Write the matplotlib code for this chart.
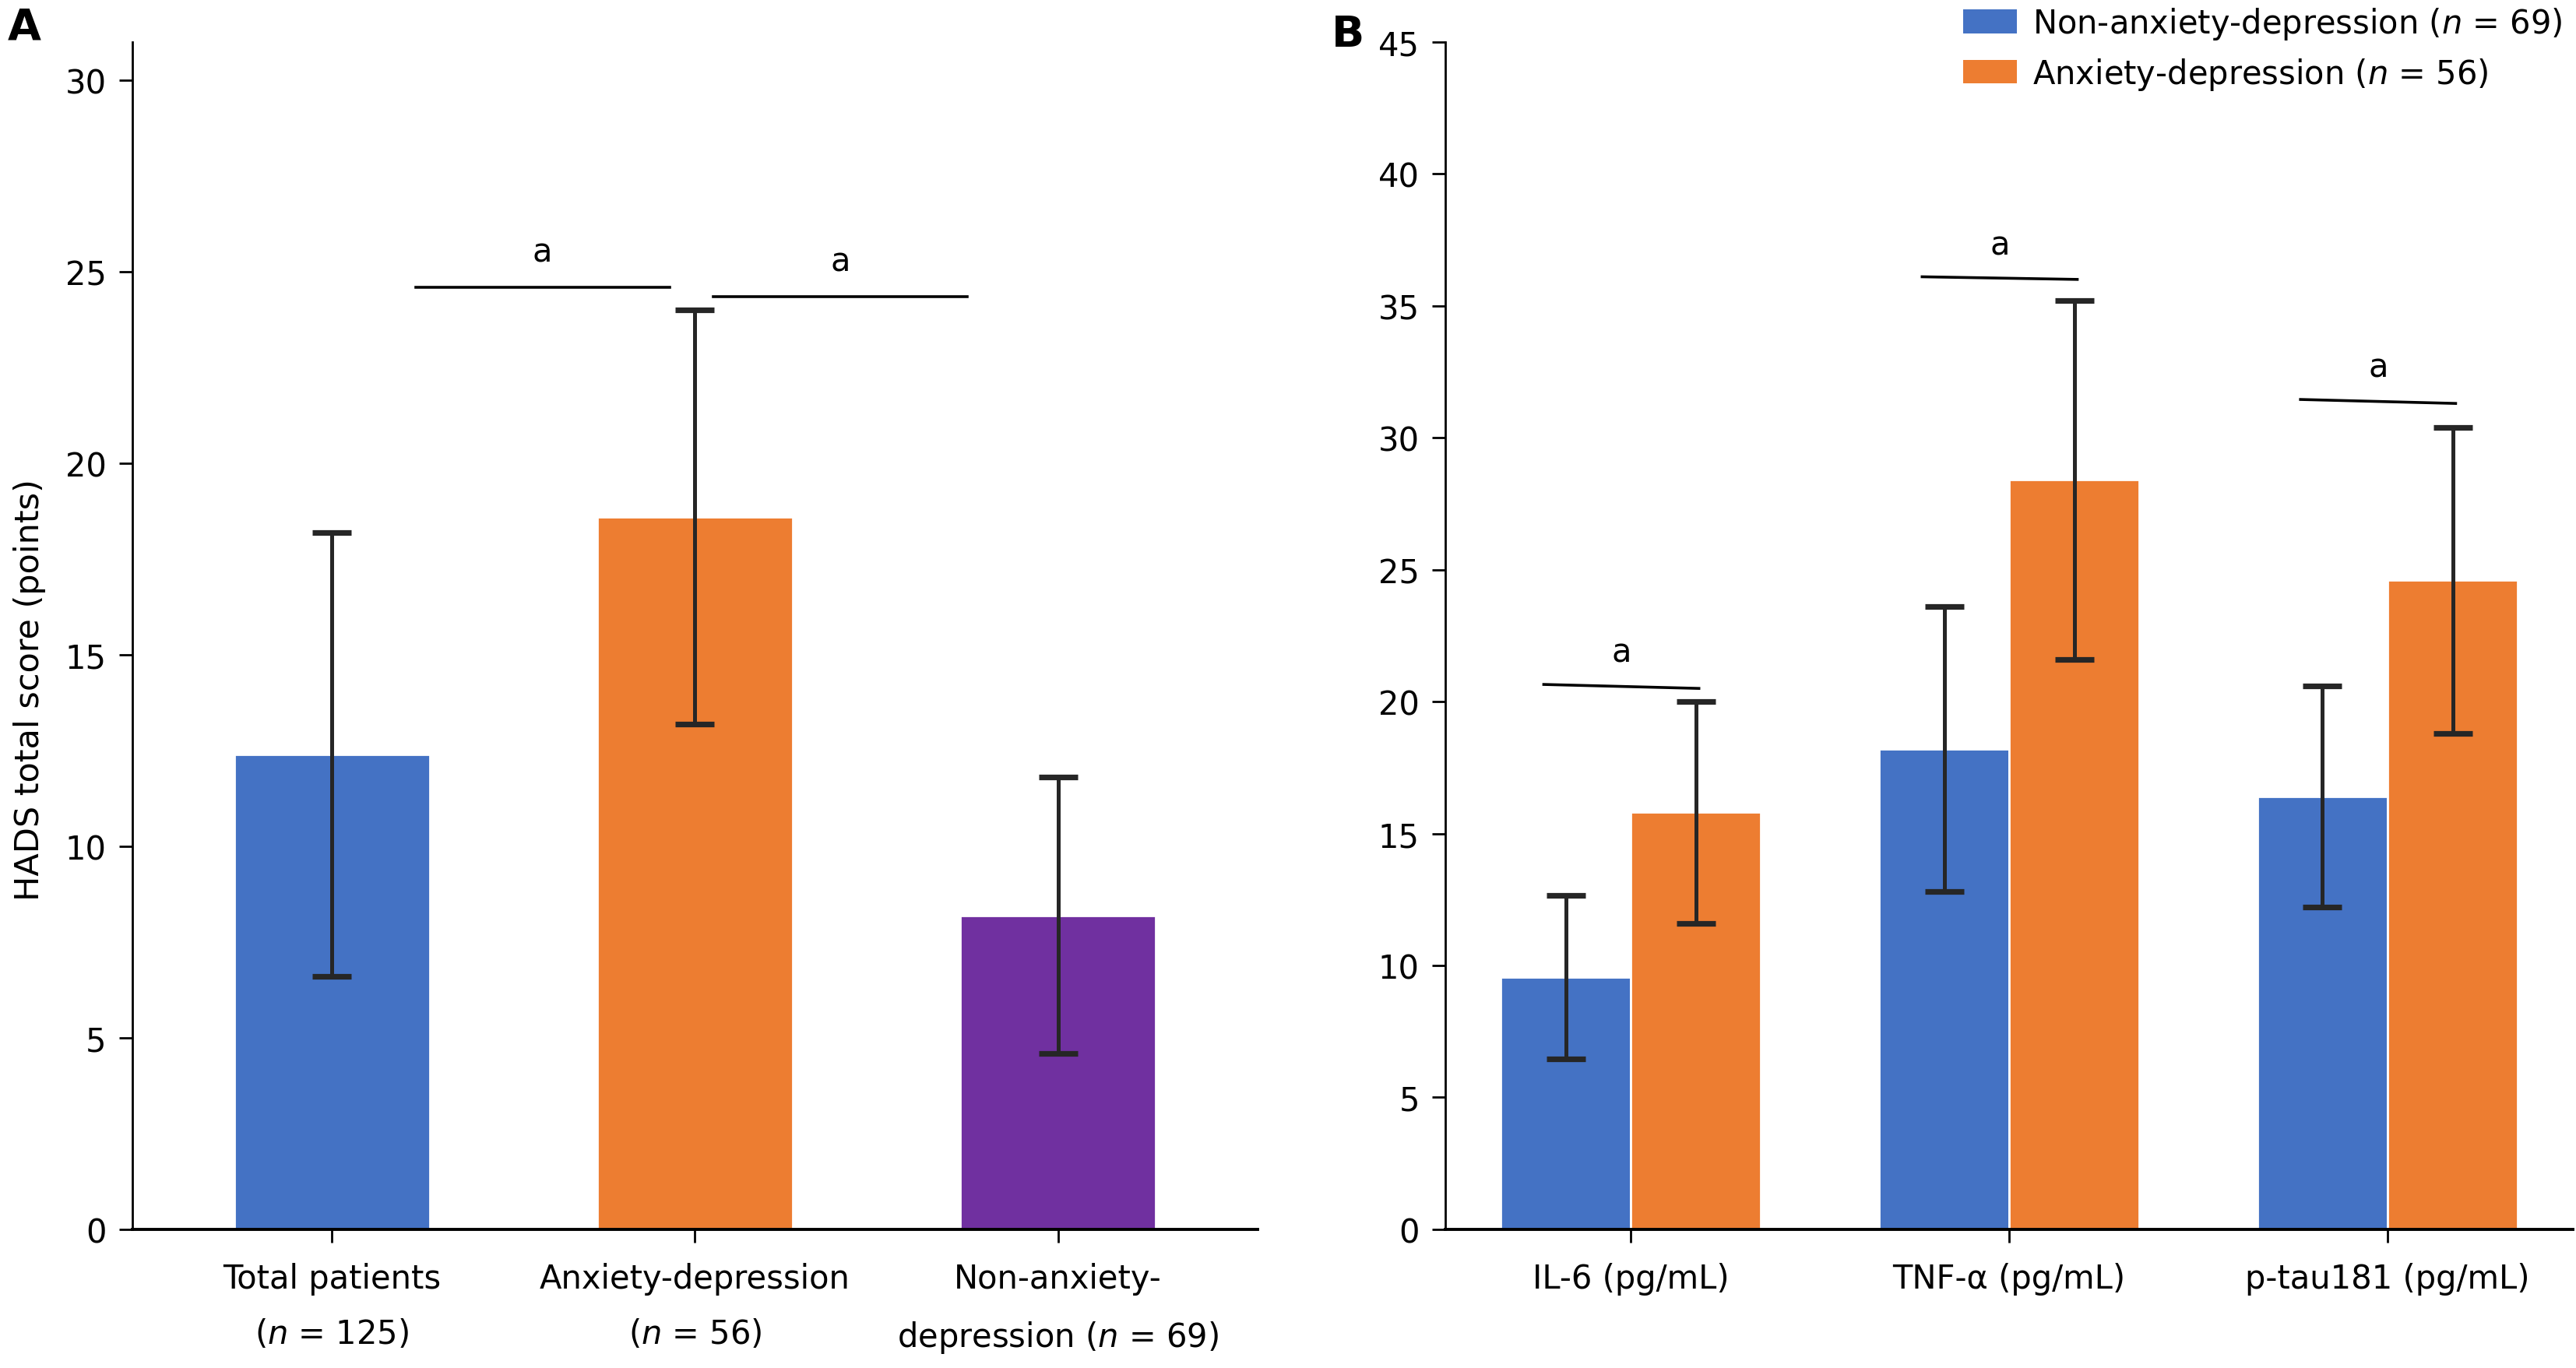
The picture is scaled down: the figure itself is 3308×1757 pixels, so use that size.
import matplotlib
matplotlib.use("Agg")
import matplotlib.pyplot as plt
import numpy as np
from matplotlib.patches import Patch

# panel A data - HADS total score
groups_a = ["Total patients\n($\\mathit{n}$ = 125)",
            "Anxiety-depression\n($\\mathit{n}$ = 56)",
            "Non-anxiety-\ndepression ($\\mathit{n}$ = 69)"]
hads_mean = [12.4, 18.6, 8.2]
hads_sd = [5.8, 5.4, 3.6]
colors_a = ["#4472C4", "#ED7D31", "#7030A0"]

# significance brackets panel A: (x start, x end, y)
sig_a_x = [(0.23, 0.93), (1.05, 1.75)]
sig_a_y = [24.6, 24.35]

# panel B data - serum markers
markers = ["IL-6 (pg/mL)", "TNF-\u03b1 (pg/mL)", "p-tau181 (pg/mL)"]
non_mean = [9.55, 18.2, 16.4]
non_sd = [3.1, 5.4, 4.2]
anx_mean = [15.8, 28.4, 24.6]
anx_sd = [4.2, 6.8, 5.8]
legend_labels = ["Non-anxiety-depression ($\\mathit{n}$ = 69)",
                 "Anxiety-depression ($\\mathit{n}$ = 56)"]

# significance lines panel B (slightly tilted in original)
sig_b_x = (-0.23, 0.18)
sig_b_y = [(20.65, 20.5), (36.1, 36.0), (31.45, 31.3)]

blue = "#4472C4"
orange = "#ED7D31"
err_col = "#262626"
fs = 15

fig = plt.figure(figsize=(16.54, 8.79), dpi=200)
ax_a = fig.add_axes([0.0514, 0.1013, 0.4368, 0.8675])
ax_b = fig.add_axes([0.5611, 0.1013, 0.4377, 0.8675])

# ---- panel A ----
xa = np.arange(len(groups_a))
ax_a.bar(xa, hads_mean, width=0.54, color=colors_a, edgecolor="white", linewidth=1, zorder=2)
ax_a.errorbar(xa, hads_mean, yerr=hads_sd, fmt="none", ecolor=err_col,
              elinewidth=1.8, capsize=9, capthick=2.6, zorder=3)
for (x0, x1), y in zip(sig_a_x, sig_a_y):
    ax_a.plot([x0, x1], [y, y], color="black", lw=1.3, zorder=3)
    ax_a.text((x0 + x1) / 2, y + 0.5, "a", ha="center", va="bottom", fontsize=fs)
ax_a.set_xlim(-0.55, 2.55)
ax_a.set_ylim(0, 31)
ax_a.set_yticks([0, 5, 10, 15, 20, 25, 30])
ax_a.set_xticks(xa)
ax_a.set_xticklabels(groups_a, linespacing=1.9)
ax_a.set_ylabel("HADS total score (points)", fontsize=15.5)
ax_a.yaxis.set_label_coords(-0.077, 0.455)

# ---- panel B ----
xb = np.arange(len(markers))
w = 0.344
ax_b.bar(xb - w / 2, non_mean, width=w, color=blue, edgecolor="white", linewidth=1, zorder=2)
ax_b.bar(xb + w / 2, anx_mean, width=w, color=orange, edgecolor="white", linewidth=1, zorder=2)
ax_b.errorbar(xb - w / 2, non_mean, yerr=non_sd, fmt="none", ecolor=err_col,
              elinewidth=1.8, capsize=9, capthick=2.6, zorder=3)
ax_b.errorbar(xb + w / 2, anx_mean, yerr=anx_sd, fmt="none", ecolor=err_col,
              elinewidth=1.8, capsize=9, capthick=2.6, zorder=3)
for i, (y0, y1) in enumerate(sig_b_y):
    ax_b.plot([i + sig_b_x[0], i + sig_b_x[1]], [y0, y1], color="black", lw=1.3, zorder=3)
    ax_b.text(i + (sig_b_x[0] + sig_b_x[1]) / 2, max(y0, y1) + 0.6, "a",
              ha="center", va="bottom", fontsize=fs)
ax_b.set_xlim(-0.49, 2.49)
ax_b.set_ylim(0, 45)
ax_b.set_yticks(range(0, 46, 5))
ax_b.set_xticks(xb)
ax_b.set_xticklabels(markers)

for ax in (ax_a, ax_b):
    ax.spines["top"].set_visible(False)
    ax.spines["right"].set_visible(False)
    ax.spines["left"].set_linewidth(1.0)
    ax.spines["bottom"].set_linewidth(1.4)
    ax.tick_params(direction="out", length=6, width=1, labelsize=fs, pad=6)
    ax.tick_params(axis="x", pad=9)

handles = [Patch(facecolor=blue), Patch(facecolor=orange)]
fig.legend(handles, legend_labels, loc="upper left", bbox_to_anchor=(0.757, 1.005),
           frameon=False, fontsize=fs, handlelength=1.65, handleheight=0.75,
           handletextpad=0.5, labelspacing=0.45, borderaxespad=0)

fig.text(0.003, 0.995, "A", fontsize=20, fontweight="bold", va="top", ha="left")
fig.text(0.517, 0.99, "B", fontsize=20, fontweight="bold", va="top", ha="left")

fig.savefig("out.png", dpi=200)
